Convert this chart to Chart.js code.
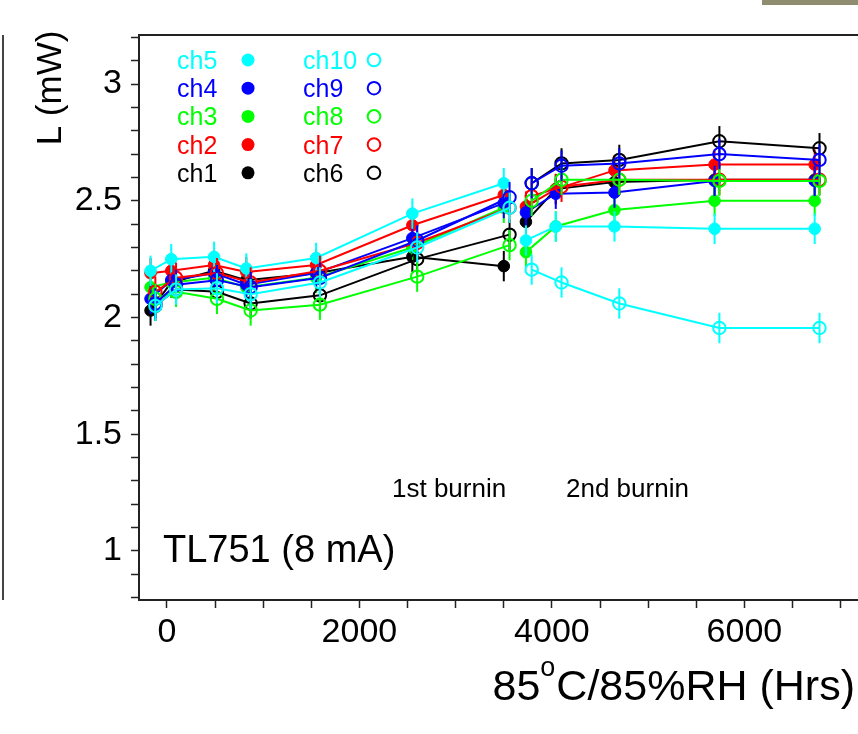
<!DOCTYPE html>
<html><head><meta charset="utf-8">
<script src="https://cdn.jsdelivr.net/npm/chart.js@4.4.1/dist/chart.umd.min.js"></script>
<style>html,body{margin:0;padding:0;background:#fff;}#wrap{width:858px;height:734px;position:relative;}canvas{display:block;}</style>
</head><body><div id="wrap"><canvas id="c" width="858" height="734"></canvas></div>
<script>
// ---- data (hours at 85C/85%RH, light output L in mW) ----
const tFilled = [-170, 45, 490, 825, 1550, 2550, 3500, 3730, 4040, 4650, 5690, 6730];
const tOpen   = [-120, 95, 520, 870, 1590, 2600, 3560, 3790, 4100, 4700, 5740, 6780];
const phase1Count = 7; // points measured before the 2nd burn-in

const ch1  = [2.03, 2.15, 2.20, 2.16, 2.19, 2.26, 2.22, 2.41, 2.55, 2.58, 2.59, 2.59];
const ch2  = [2.19, 2.20, 2.225, 2.195, 2.225, 2.395, 2.525, 2.475, 2.55, 2.63, 2.655, 2.655];
const ch3  = [2.13, 2.15, 2.17, 2.13, 2.17, 2.30, 2.47, 2.28, 2.39, 2.46, 2.50, 2.50];
const ch4  = [2.08, 2.16, 2.19, 2.14, 2.19, 2.34, 2.49, 2.45, 2.53, 2.535, 2.585, 2.585];
const ch5  = [2.20, 2.25, 2.26, 2.21, 2.255, 2.445, 2.575, 2.33, 2.39, 2.39, 2.38, 2.38];
const ch6  = [2.05, 2.12, 2.11, 2.06, 2.095, 2.25, 2.355, 2.575, 2.66, 2.675, 2.755, 2.725];
const ch7  = [2.11, 2.17, 2.19, 2.15, 2.20, 2.32, 2.47, 2.52, 2.56, 2.59, 2.59, 2.59];
const ch8  = [2.08, 2.11, 2.08, 2.03, 2.055, 2.175, 2.31, 2.50, 2.59, 2.59, 2.585, 2.585];
const ch9  = [2.06, 2.14, 2.16, 2.13, 2.17, 2.33, 2.515, 2.575, 2.65, 2.66, 2.70, 2.675];
const ch10 = [2.05, 2.12, 2.125, 2.10, 2.15, 2.30, 2.47, 2.205, 2.15, 2.06, 1.955, 1.955];
const errL = [0.065, 0.065, 0.065, 0.065, 0.065, 0.065, 0.065, 0.065, 0.065, 0.065];

const channelNames = ['ch1','ch2','ch3','ch4','ch5','ch6','ch7','ch8','ch9','ch10'];
const channelValues = [ch1, ch2, ch3, ch4, ch5, ch6, ch7, ch8, ch9, ch10];

const xTickValues = [0,500,1000,1500,2000,2500,3000,3500,4000,4500,5000,5500,6000,6500,7000];
const xTickLabels = [0, 2000, 4000, 6000];
const yTickValues = [0.8,0.9,1.0,1.1,1.2,1.3,1.4,1.5,1.6,1.7,1.8,1.9,2.0,2.1,2.2,2.3,2.4,2.5,2.6,2.7,2.8,2.9,3.0,3.1,3.2];
const yTickLabels = ['1','1.5','2','2.5','3'];

// ---- styles ----
const FONT = '"Liberation Sans", Arial, Helvetica, sans-serif';
const palette = ['#000000', '#ff0000', '#00ff00', '#0000ff', '#00ffff'];
const colorOf = i => palette[i % 5];
const filledOf = i => i < 5;

const datasets = channelValues.map((vals, i) => {
  const times = filledOf(i) ? tFilled : tOpen;
  const col = colorOf(i);
  return {
    label: channelNames[i],
    data: vals.map((v, k) => ({x: times[k], y: v})),
    err: errL[i],
    order: 10 - i,
    borderColor: col,
    backgroundColor: col,
    borderWidth: 2,
    pointRadius: filledOf(i) ? 5.8 : 6.2,
    pointBorderWidth: filledOf(i) ? 1 : 2,
    pointBackgroundColor: filledOf(i) ? col : 'rgba(0,0,0,0)',
    pointBorderColor: col,
    tension: 0,
    fill: false,
    segment: {
      borderColor: ctx => ctx.p0DataIndex === phase1Count - 1 ? 'rgba(0,0,0,0)' : undefined
    }
  };
});

const errorBars = {
  id: 'errorBars',
  beforeDatasetDraw(chart, args) {
    const ds = chart.data.datasets[args.index];
    const ys = chart.scales.y, ca = chart.chartArea, ctx = chart.ctx;
    ctx.save();
    ctx.beginPath(); ctx.rect(ca.left, ca.top, ca.right - ca.left, ca.bottom - ca.top); ctx.clip();
    ctx.strokeStyle = ds.borderColor; ctx.lineWidth = 2;
    args.meta.data.forEach((el, k) => {
      const v = ds.data[k].y;
      ctx.beginPath();
      ctx.moveTo(el.x, ys.getPixelForValue(v - ds.err));
      ctx.lineTo(el.x, ys.getPixelForValue(v + ds.err));
      ctx.stroke();
    });
    ctx.restore();
  }
};

const decor = {
  id: 'decor',
  afterDraw(chart) {
    const ctx = chart.ctx, ca = chart.chartArea;
    ctx.save();
    // frame top line
    ctx.strokeStyle = '#222'; ctx.lineWidth = 2;
    ctx.beginPath(); ctx.moveTo(ca.left, ca.top); ctx.lineTo(858, ca.top); ctx.stroke();
    // neighbouring panel edge and top-right strip
    ctx.strokeStyle = '#444'; ctx.lineWidth = 2;
    ctx.beginPath(); ctx.moveTo(3, ca.top); ctx.lineTo(3, ca.bottom); ctx.stroke();
    ctx.fillStyle = '#8f8c6f'; ctx.fillRect(762, 0, 96, 5);

    // y title
    ctx.fillStyle = '#000';
    ctx.save();
    ctx.translate(61, 88); ctx.rotate(-Math.PI / 2);
    ctx.font = '35px ' + FONT; ctx.textAlign = 'center'; ctx.textBaseline = 'alphabetic';
    ctx.fillText('L (mW)', 0, 0);
    ctx.restore();

    // x title with superscript
    const big = '43px ' + FONT, small = '27px ' + FONT;
    ctx.textAlign = 'left'; ctx.textBaseline = 'alphabetic';
    ctx.font = big; const wA = ctx.measureText('85').width; const wC = ctx.measureText('C/85%RH (Hrs)').width;
    ctx.font = small; const wB = ctx.measureText('o').width + 1;
    let x0 = 855 - (wA + wB + wC);
    ctx.font = big; ctx.fillText('85', x0, 700);
    ctx.font = small; ctx.fillText('o', x0 + wA, 676);
    ctx.font = big; ctx.fillText('C/85%RH (Hrs)', x0 + wA + wB, 700);

    // annotations
    ctx.font = '26px ' + FONT;
    ctx.fillText('1st burnin', 392, 497);
    ctx.fillText('2nd burnin', 566, 497);
    ctx.font = '38px ' + FONT;
    ctx.fillText('TL751 (8 mA)', 163, 562);

    // legend: filled channels (ch5..ch1) left, open channels (ch10..ch6) right
    ctx.font = '25px ' + FONT;
    for (let r = 0; r < 5; r++) {
      const base = 69 + r * 28.2, cy = base - 9;
      const iF = 4 - r, iO = 9 - r;
      ctx.fillStyle = colorOf(iF);
      ctx.fillText(channelNames[iF], 177, base);
      ctx.beginPath(); ctx.arc(248, cy, 6.5, 0, Math.PI * 2); ctx.fill();
      ctx.fillStyle = colorOf(iO);
      ctx.fillText(channelNames[iO], 303, base);
      ctx.strokeStyle = colorOf(iO); ctx.lineWidth = 2;
      ctx.beginPath(); ctx.arc(374, cy, 6.3, 0, Math.PI * 2); ctx.stroke();
    }
    ctx.restore();
  }
};

new Chart(document.getElementById('c'), {
  type: 'line',
  data: {datasets},
  options: {
    responsive: false, animation: false, devicePixelRatio: 1,
    layout: {autoPadding: false, padding: {top: 35, left: 0, right: 0, bottom: 0}},
    plugins: {legend: {display: false}, tooltip: {enabled: false}},
    scales: {
      x: {
        type: 'linear', min: -290, max: 7180,
        afterBuildTicks: s => { s.ticks = xTickValues.map(v => ({value: v})); },
        afterFit: s => { s.height = 134; s.paddingLeft = 0; s.paddingRight = 0; },
        grid: {drawOnChartArea: false, drawTicks: true, tickLength: 8, tickWidth: 1.5, tickColor: '#222'},
        border: {display: true, color: '#222', width: 2},
        ticks: {autoSkip: false, maxRotation: 0, padding: 4, color: '#000', font: {family: FONT, size: 34},
          callback: v => xTickLabels.includes(v) ? String(v) : ''}
      },
      y: {
        type: 'linear', min: 0.79, max: 3.21,
        afterBuildTicks: s => { s.ticks = yTickValues.map(v => ({value: v})); },
        afterFit: s => { s.width = 139; s.paddingTop = 0; s.paddingBottom = 0; },
        grid: {drawOnChartArea: false, drawTicks: true, tickLength: 8, tickWidth: 1.5, tickColor: '#222'},
        border: {display: true, color: '#222', width: 2},
        ticks: {autoSkip: false, padding: 9, color: '#000', font: {family: FONT, size: 34},
          callback: v => { const l = yTickLabels.find(t => Math.abs(parseFloat(t) - v) < 1e-6); return l === undefined ? '' : l; }}
      }
    }
  },
  plugins: [errorBars, decor]
});
</script>
</body></html>
